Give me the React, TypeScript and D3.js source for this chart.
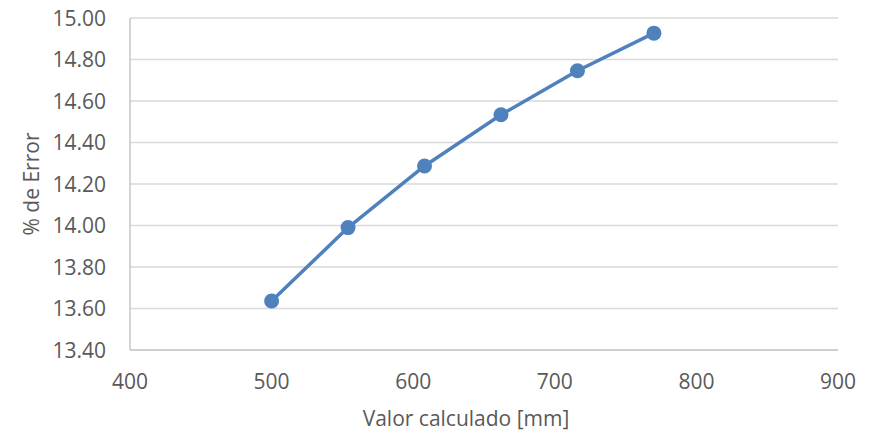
import * as d3 from 'd3';

const xValues = [500, 554, 608, 662, 716, 770];
const errorValues = [13.636, 13.99, 14.287, 14.534, 14.746, 14.927];
const xTicks = [400, 500, 600, 700, 800, 900];
const yTicks = [13.4, 13.6, 13.8, 14.0, 14.2, 14.4, 14.6, 14.8, 15.0];
const xTitle = 'Valor calculado [mm]';
const yTitle = '% de Error';

const App = () => {
  const width = 875;
  const height = 436;
  const left = 130;
  const right = 838;
  const top = 18;
  const bottom = 350;
  const blue = '#4f81bd';
  const textColor = '#595959';
  const font = '"Open Sans", "Liberation Sans", Arial, sans-serif';

  const x = d3.scaleLinear().domain([400, 900]).range([left, right]);
  const y = d3.scaleLinear().domain([13.4, 15.0]).range([bottom, top]);

  const points = xValues.map((v, i) => [v, errorValues[i]] as [number, number]);
  const line = d3
    .line<[number, number]>()
    .x((d) => x(d[0]))
    .y((d) => y(d[1]));

  return (
    <svg
      width={width}
      height={height}
      style={{ position: 'absolute', left: 0, top: 0, background: '#fff' }}
      fontFamily={font}
    >
      {yTicks.map((t) => (
        <g key={t}>
          {t > 13.4 && (
            <line x1={left} x2={right} y1={y(t)} y2={y(t)} stroke="#d9d9d9" strokeWidth={1.3} />
          )}
          <text x={106} y={y(t)} dy="0.36em" textAnchor="end" fontSize={21} fill={textColor}>
            {d3.format('.2f')(t)}
          </text>
        </g>
      ))}
      <line x1={left} x2={left} y1={top} y2={bottom} stroke="#bfbfbf" strokeWidth={1.3} />
      <line x1={left} x2={right} y1={bottom} y2={bottom} stroke="#bfbfbf" strokeWidth={1.3} />
      {xTicks.map((t) => (
        <text key={t} x={x(t)} y={381} dy="0.36em" textAnchor="middle" fontSize={21} fill={textColor}>
          {t}
        </text>
      ))}
      <text x={466} y={418} dy="0.36em" textAnchor="middle" fontSize={21} fill={textColor}>
        {xTitle}
      </text>
      <text
        transform={`translate(31, 184) rotate(-90)`}
        dy="0.36em"
        textAnchor="middle"
        fontSize={21}
        fill={textColor}
      >
        {yTitle}
      </text>
      <path d={line(points) || ''} fill="none" stroke={blue} strokeWidth={3.5} strokeLinejoin="round" />
      {points.map((p, i) => (
        <circle key={i} cx={x(p[0])} cy={y(p[1])} r={7.5} fill={blue} />
      ))}
    </svg>
  );
};

export default App;
